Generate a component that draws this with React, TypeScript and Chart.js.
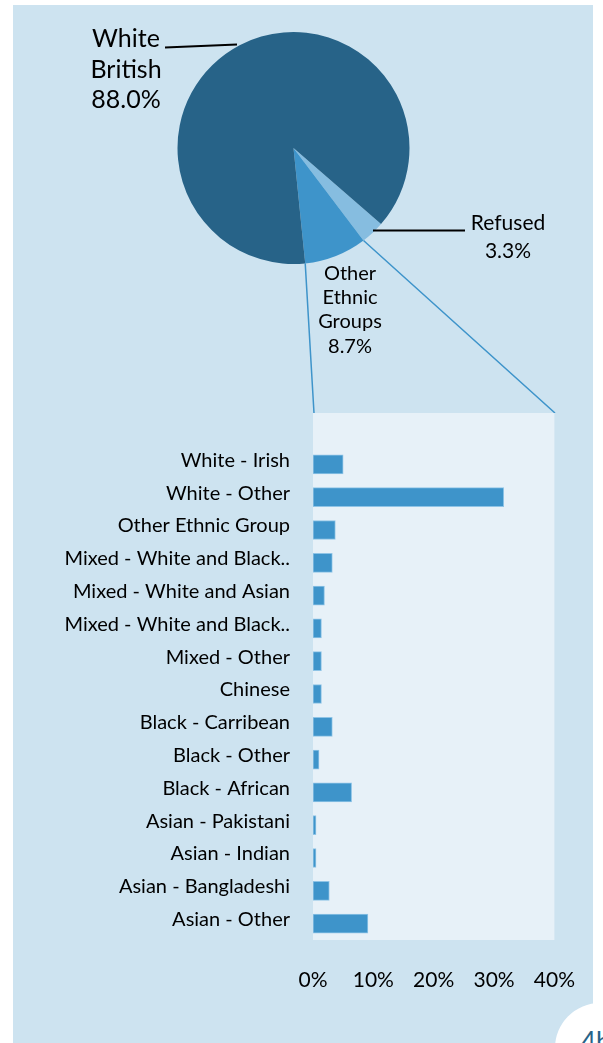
import React, { useEffect, useRef } from "react";
import { Chart, registerables } from "chart.js";

Chart.register(...registerables);

const pieLabels = ["Refused", "Other Ethnic Groups", "White British"];
const pieValues = [3.3, 8.7, 88.0];
const pieColors = ["#86bde0", "#3e94ca", "#276388"];

const barCategories = [
  "White - Irish",
  "White - Other",
  "Other Ethnic Group",
  "Mixed - White and Black..",
  "Mixed - White and Asian",
  "Mixed - White and Black..",
  "Mixed - Other",
  "Chinese",
  "Black - Carribean",
  "Black - Other",
  "Black - African",
  "Asian - Pakistani",
  "Asian - Indian",
  "Asian - Bangladeshi",
  "Asian - Other",
];
const barValues = [5.0, 31.6, 3.7, 3.2, 1.9, 1.4, 1.4, 1.4, 3.2, 1.0, 6.4, 0.5, 0.5, 2.7, 9.1];
const xTicks = [0, 10, 20, 30, 40];

const FONT = "Lato, 'Open Sans', sans-serif";

export default function App() {
  const pieRef = useRef<HTMLCanvasElement>(null);
  const barRef = useRef<HTMLCanvasElement>(null);

  useEffect(() => {
    const pieDeco = {
      id: "pieDeco",
      afterDraw(chart: any) {
        const ctx = chart.ctx;
        const meta = chart.getDatasetMeta(0);
        const other: any = meta.data[1];
        const { x, y, outerRadius, startAngle, endAngle } = other.getProps(
          ["x", "y", "outerRadius", "startAngle", "endAngle"],
          true
        );
        ctx.save();
        // connector lines to the bar panel
        ctx.strokeStyle = "#3e94ca";
        ctx.lineWidth = 1.5;
        ctx.beginPath();
        ctx.moveTo(x + outerRadius * Math.cos(endAngle), y + outerRadius * Math.sin(endAngle));
        ctx.lineTo(314, 413);
        ctx.moveTo(x + outerRadius * Math.cos(startAngle), y + outerRadius * Math.sin(startAngle));
        ctx.lineTo(555, 413);
        ctx.stroke();
        // leader lines
        ctx.strokeStyle = "#000";
        ctx.lineWidth = 2;
        ctx.beginPath();
        ctx.moveTo(165, 47.5);
        ctx.lineTo(237, 44.5);
        ctx.moveTo(373, 230.5);
        ctx.lineTo(465, 230.5);
        ctx.stroke();
        // labels
        ctx.fillStyle = "#000";
        ctx.textAlign = "center";
        ctx.textBaseline = "alphabetic";
        ctx.font = `25px ${FONT}`;
        ctx.fillText("White", 126, 47);
        ctx.fillText("British", 126, 78);
        ctx.fillText(pieValues[2].toFixed(1) + "%", 126, 108);
        ctx.font = `20px ${FONT}`;
        ctx.fillText("Other", 350, 280);
        ctx.fillText("Ethnic", 350, 304);
        ctx.fillText("Groups", 350, 328);
        ctx.fillText(pieValues[1].toFixed(1) + "%", 350, 353);
        ctx.font = `21px ${FONT}`;
        ctx.fillText("Refused", 508, 230);
        ctx.fillText(pieValues[0].toFixed(1) + "%", 508, 258);
        ctx.restore();
      },
    };

    const pie = new Chart(pieRef.current!, {
      type: "pie",
      data: {
        labels: pieLabels,
        datasets: [
          {
            data: pieValues,
            backgroundColor: pieColors,
            borderWidth: 0,
          },
        ],
      },
      options: {
        responsive: false,
        animation: false,
        rotation: 131,
        layout: { padding: { left: 177.5, top: 32, right: 193.5, bottom: 149 } },
        plugins: { legend: { display: false }, tooltip: { enabled: false } },
      },
      plugins: [pieDeco],
    });

    const panelBg = {
      id: "panelBg",
      beforeDraw(chart: any) {
        const { ctx, chartArea } = chart;
        ctx.save();
        ctx.fillStyle = "#e7f1f8";
        ctx.fillRect(chartArea.left, 0, chartArea.right - chartArea.left, chartArea.bottom);
        ctx.restore();
      },
    };

    const bar = new Chart(barRef.current!, {
      type: "bar",
      data: {
        labels: barCategories,
        datasets: [
          {
            data: barValues,
            backgroundColor: "#3e94ca",
            borderColor: "#8fc4e6",
            borderWidth: 1,
            borderSkipped: false,
            barThickness: 19,
          },
        ],
      },
      options: {
        indexAxis: "y",
        responsive: false,
        animation: false,
        layout: { padding: { left: 0, right: 47, top: 33.5, bottom: 0 } },
        plugins: { legend: { display: false }, tooltip: { enabled: false } },
        scales: {
          x: {
            min: 0,
            max: 40,
            afterFit: (s: any) => {
              s.height = 73;
            },
            afterBuildTicks: (s: any) => {
              s.ticks = xTicks.map((v) => ({ value: v }));
            },
            grid: { display: false, drawTicks: false },
            border: { display: false },
            ticks: {
              padding: 28,
              color: "#000",
              font: { family: FONT, size: 21 },
              callback: (v: any) => v + "%",
            },
          },
          y: {
            afterFit: (s: any) => {
              s.width = 313;
            },
            grid: { display: false, drawTicks: false },
            border: { display: false },
            ticks: {
              padding: 23,
              labelOffset: -4,
              color: "#000",
              font: { family: FONT, size: 20 },
              autoSkip: false,
            },
          },
        },
      },
      plugins: [panelBg],
    });

    return () => {
      pie.destroy();
      bar.destroy();
    };
  }, []);

  return (
    <div
      style={{
        position: "absolute",
        left: 0,
        top: 0,
        width: 603,
        height: 1043,
        overflow: "hidden",
        background: "#ffffff",
      }}
    >
      <div
        style={{
          position: "absolute",
          left: 13,
          top: 5,
          width: 580,
          height: 1100,
          background: "#cde3f0",
        }}
      />
      <canvas
        ref={pieRef}
        width={603}
        height={413}
        style={{ position: "absolute", left: 0, top: 0, width: 603, height: 413 }}
      />
      <canvas
        ref={barRef}
        width={603}
        height={600}
        style={{ position: "absolute", left: 0, top: 413, width: 603, height: 600 }}
      />
      <div
        style={{
          position: "absolute",
          left: 555,
          top: 1003,
          width: 90,
          height: 90,
          borderRadius: "50%",
          background: "#ffffff",
        }}
      />
      <div
        style={{
          position: "absolute",
          left: 581,
          top: 1026,
          fontFamily: FONT,
          fontSize: 26,
          color: "#276388",
          lineHeight: "30px",
        }}
      >
        4b
      </div>
    </div>
  );
}
